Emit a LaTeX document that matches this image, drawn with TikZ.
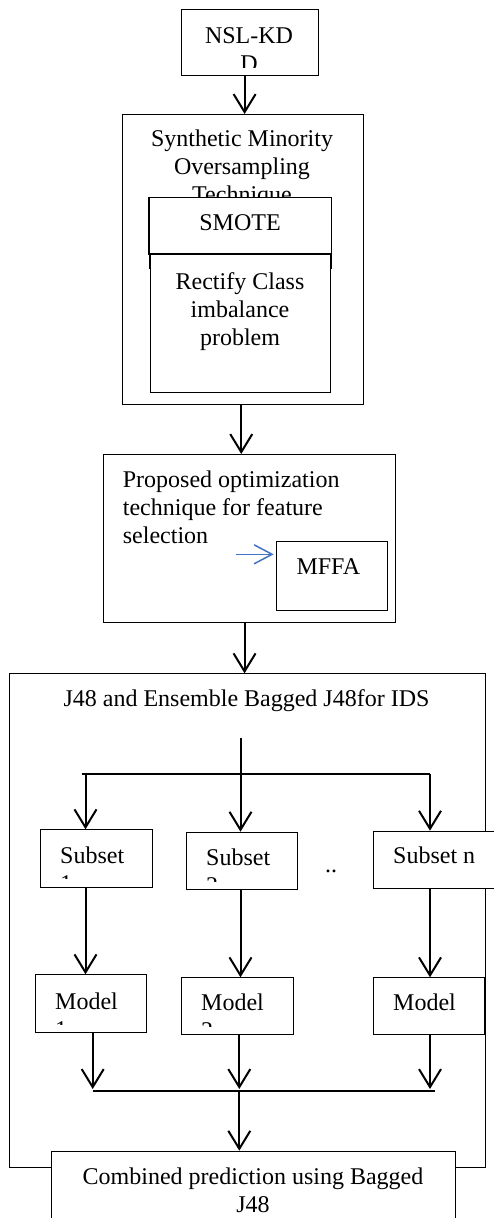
\documentclass[tikz,border=0pt]{standalone}
\usepackage{fontspec}
\setmainfont{Liberation Serif}
\usetikzlibrary{arrows.meta}
\definecolor{wordblue}{RGB}{68,114,196}
\tikzset{
  box/.style={draw, line width=1.1pt, fill=white, inner sep=0pt, anchor=north west},
  txt/.style={inner sep=0pt, font=\fontsize{24}{28}\selectfont},
  ctxt/.style={txt, align=center, anchor=north},
  ltxt/.style={txt, align=left, anchor=north west},
  wire/.style={line width=2pt},
  arr/.style={wire, -{Straight Barb[length=18pt,width=22pt]}},
  bluearr/.style={draw=wordblue, line width=1.5pt, -{Straight Barb[length=18pt,width=19pt]}}
}
\begin{document}
\begin{tikzpicture}[x=1pt,y=-1pt]
\useasboundingbox (0,0) rectangle (493,1218);

% --- input data set
\node[box, minimum width=137.3pt, minimum height=66pt] (nsl) at (180.7,9) {};
\begin{scope}
  \clip ([yshift=9pt]nsl.south west) rectangle (nsl.north east);
  \node[ctxt] (nsltext) at (249,27.3) {NSL-KD\\D};
\end{scope}

% --- SMOTE stage
\node[box, minimum width=241pt, minimum height=290pt] (syn) at (121.7,114) {};
\node[ctxt] (syntext) at (242,130) {Synthetic Minority\\Oversampling\\Technique};
\node[box, minimum width=181.7pt, minimum height=71.3pt] (smote) at (149,196.7) {};
\node[txt, anchor=base] (smotetext) at (240,230) {SMOTE};
\draw[line width=1.1pt] (smote.north west) -- ++(0,57.3) -- ([yshift=-57.3pt]smote.north east);
\node[box, minimum width=180pt, minimum height=137.7pt] (rect) at (150,254) {};
\node[ctxt] (recttext) at (240,272.3) {Rectify Class\\imbalance\\problem};

% --- feature selection stage
\node[box, minimum width=292.6pt, minimum height=168.3pt] (prop) at (102.7,454) {};
\node[ltxt] (proptext) at (122.7,470.7) {Proposed optimization\\technique for feature\\selection};
\node[box, minimum width=111pt, minimum height=69.3pt] (mffa) at (275.7,540.7) {};
\node[txt, anchor=base] (mffatext) at (328.3,574) {MFFA};
\coordinate (fsel) at (236,554.3);
\draw[bluearr, shorten >=2pt] (fsel) -- (fsel -| mffa.west);

% --- classifier stage
\node[box, minimum width=476pt, minimum height=493.4pt] (j48) at (9.3,673.3) {};
\node[txt, anchor=base] (j48text) at (246.5,706.7) {J48 and Ensemble Bagged J48for IDS};

\node[box, minimum width=111.7pt, minimum height=57.4pt] (s1) at (40,829.3) {};
\node[box, minimum width=111pt, minimum height=57.6pt] (s2) at (185.7,831.7) {};
\node[box, minimum width=130pt, minimum height=57.6pt] (sn) at (373.3,830.7) {};
\begin{scope}
  \clip ([yshift=9pt]s1.south west) rectangle (s1.north east);
  \node[ltxt] (s1text) at (60,846.7) {Subset\\1};
\end{scope}
\begin{scope}
  \clip ([yshift=9pt]s2.south west) rectangle (s2.north east);
  \node[ltxt] (s2text) at (206,849) {Subset\\2};
\end{scope}
\node[txt, anchor=base west] (sntext) at (393,863.3) {Subset n};
\node[txt, anchor=base] (dots) at (331,872) {..};

\node[box, minimum width=111pt, minimum height=58pt] (m1) at (35,974.3) {};
\node[box, minimum width=111.7pt, minimum height=57pt] (m2) at (181,977.3) {};
\node[box, minimum width=111pt, minimum height=57pt] (mn) at (373.3,977.3) {};
\begin{scope}
  \clip ([yshift=9pt]m1.south west) rectangle (m1.north east);
  \node[ltxt] (m1text) at (55,992.3) {Model\\1};
\end{scope}
\begin{scope}
  \clip ([yshift=9pt]m2.south west) rectangle (m2.north east);
  \node[ltxt] (m2text) at (201,994) {Model\\2};
\end{scope}
\node[txt, anchor=base west] (mntext) at (393,1010) {Model};

\node[box, minimum width=404pt, minimum height=80pt] (comb) at (51,1150.7) {};
\node[ctxt] (combtext) at (253,1167.3) {Combined prediction using Bagged\\J48};

% --- connectors between stages
\draw[arr] ([xshift=-5.3pt]nsl.south) -- ([xshift=-5.3pt]nsl.south |- syn.north);
\draw[arr] ([xshift=-1.5pt]syn.south) -- ([xshift=-1.5pt]syn.south |- prop.north);
\draw[arr] ([xshift=-5pt]prop.south) -- ([xshift=-5pt]prop.south |- j48.north);

% --- bagging: split into subsets
\coordinate (split) at (240.5,738);
\coordinate (forkL) at (81.7,774);
\coordinate (c1) at (85.5,774);
\coordinate (forkR) at (430,774);
\draw[arr] (split) -- (split |- s2.north);
\draw[wire] (forkL) -- (forkR);
\draw[arr] (c1) -- (c1 |- s1.north);
\draw[arr] (forkR) -- (forkR |- sn.north);

% --- subsets to models
\draw[arr] (s1.south -| c1) -- (m1.north -| c1);
\draw[arr] (s2.south -| split) -- (m2.north -| split);
\draw[arr] (sn.south -| forkR) -- (mn.north -| forkR);

% --- models merged into the combined prediction
\coordinate (mergeL) at (92.7,1091);
\coordinate (mergeM) at (239.3,1091);
\coordinate (mergeR) at (435,1091);
\draw[arr, shorten >=2pt] (m1.south -| mergeL) -- (mergeL);
\draw[arr, shorten >=2pt] (m2.south -| mergeM) -- (mergeM);
\draw[arr, shorten >=2pt] (mn.south -| forkR) -- (forkR |- mergeL);
\draw[wire] (mergeL) -- (mergeR);
\draw[arr] (mergeM) -- (mergeM |- comb.north);
\end{tikzpicture}
\end{document}
